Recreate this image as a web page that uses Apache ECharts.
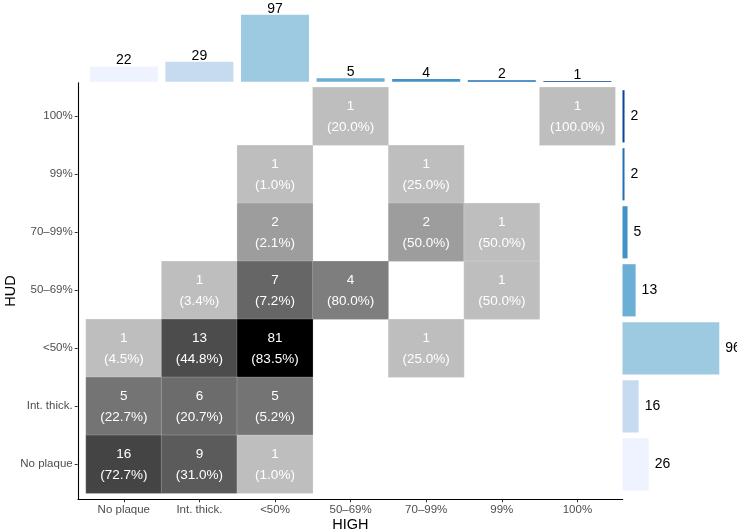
<!DOCTYPE html>
<html>
<head>
<meta charset="utf-8">
<script src="https://cdn.jsdelivr.net/npm/echarts@6/dist/echarts.min.js"></script>
<style>
html,body{margin:0;padding:0;background:#fff;}
#chart{width:737px;height:531px;}
</style>
</head>
<body>
<div id="chart"></div>
<script>
// Categories
const xCats = ['No plaque', 'Int. thick.', '<50%', '50–69%', '70–99%', '99%', '100%'];
const yCats = ['No plaque', 'Int. thick.', '<50%', '50–69%', '70–99%', '99%', '100%'];
// Cells (x index, y index, count, column percentage)
const cellX     = [3, 6, 2, 4, 2, 4, 5, 1, 2, 3, 5, 0, 1, 2, 4, 0, 1, 2, 0, 1, 2];
const cellY     = [6, 6, 5, 5, 4, 4, 4, 3, 3, 3, 3, 2, 2, 2, 2, 1, 1, 1, 0, 0, 0];
const cellCount = [1, 1, 1, 1, 2, 2, 1, 1, 7, 4, 1, 1, 13, 81, 1, 5, 6, 5, 16, 9, 1];
const cellPct   = ['20.0', '100.0', '1.0', '25.0', '2.1', '50.0', '50.0', '3.4', '7.2', '80.0', '50.0',
                   '4.5', '44.8', '83.5', '25.0', '22.7', '20.7', '5.2', '72.7', '31.0', '1.0'];
// Marginal totals
const colTotals = [22, 29, 97, 5, 4, 2, 1];     // HIGH (top)
const rowTotals = [26, 16, 96, 13, 5, 2, 2];    // HUD (right), bottom to top
const blues = ['#eff3ff', '#c6dbef', '#9ecae1', '#6baed6', '#4292c6', '#2171b5', '#084594'];

const FONT = 'Liberation Sans, Arial, Helvetica, sans-serif';
const heatData = cellX.map((x, i) => [x, cellY[i], cellCount[i], Math.log(cellCount[i])]);
const maxLog = Math.log(Math.max(...cellCount));

const chart = echarts.init(document.getElementById('chart'), null, {renderer: 'canvas'});
const option = {
  animation: false,
  backgroundColor: '#ffffff',
  textStyle: {fontFamily: FONT},
  grid: [
    {left: 86, top: 87.3, width: 529.2, height: 406, outerBoundsMode: 'none', containLabel: false},      // main
    {left: 86, top: 14.7, width: 529.2, height: 67, outerBoundsMode: 'none', containLabel: false},       // top bars
    {left: 622.5, top: 87.3, width: 96.8, height: 406, outerBoundsMode: 'none', containLabel: false},    // right bars
    {left: 78, top: 82.7, width: 544.7, height: 416.6, outerBoundsMode: 'none', containLabel: false}     // frame
  ],
  xAxis: [
    {type: 'category', gridIndex: 0, data: xCats, offset: 6,
     axisLine: {show: false},
     axisTick: {show: true, length: 3, alignWithLabel: true, lineStyle: {color: '#333'}},
     axisLabel: {color: '#4d4d4d', fontSize: 11.5, margin: 5, fontFamily: FONT},
     splitLine: {show: false}},
    {type: 'category', gridIndex: 1, data: xCats, show: false},
    {type: 'value', gridIndex: 2, min: 0, max: Math.max(...rowTotals), show: false},
    {type: 'value', gridIndex: 3, min: 0, max: 1,
     axisLine: {show: true, onZero: false, lineStyle: {color: '#000', width: 1.1}},
     axisTick: {show: false}, axisLabel: {show: false}, splitLine: {show: false},
     name: 'HIGH', nameLocation: 'middle', nameGap: 18,
     nameTextStyle: {fontSize: 14.5, color: '#000', fontFamily: FONT}}
  ],
  yAxis: [
    {type: 'category', gridIndex: 0, data: yCats, offset: 8.3,
     axisLine: {show: false},
     axisTick: {show: true, length: 3, alignWithLabel: true, lineStyle: {color: '#333'}},
     axisLabel: {color: '#4d4d4d', fontSize: 11.5, margin: 5, fontFamily: FONT},
     splitLine: {show: false}},
    {type: 'value', gridIndex: 1, min: 0, max: Math.max(...colTotals), show: false},
    {type: 'category', gridIndex: 2, data: yCats, show: false},
    {type: 'value', gridIndex: 3, min: 0, max: 1,
     axisLine: {show: true, onZero: false, lineStyle: {color: '#000', width: 1.1}},
     axisTick: {show: false}, axisLabel: {show: false}, splitLine: {show: false},
     name: 'HUD', nameLocation: 'middle', nameGap: 60, nameRotate: 90,
     nameTextStyle: {fontSize: 14.5, color: '#000', fontFamily: FONT}}
  ],
  visualMap: {
    show: false, type: 'continuous', seriesIndex: 0, dimension: 3,
    min: 0, max: maxLog,
    inRange: {color: ['#bebebe', '#8a8a8a', '#5b5b5b', '#2f2f2f', '#000000']}
  },
  series: [
    {type: 'heatmap', xAxisIndex: 0, yAxisIndex: 0, data: heatData,
     itemStyle: {borderColor: 'rgba(255,255,255,0.4)', borderWidth: 0.5},
     label: {show: true, color: '#ffffff', fontSize: 13.5, lineHeight: 21, fontFamily: FONT,
       formatter: p => cellCount[p.dataIndex] + '\n(' + cellPct[p.dataIndex] + '%)'}},
    {type: 'bar', xAxisIndex: 1, yAxisIndex: 1, barCategoryGap: '10%',
     data: colTotals.map((v, i) => ({value: v, itemStyle: {color: blues[i]}})),
     label: {show: true, position: 'top', distance: -1, color: '#000', fontSize: 14, fontFamily: FONT}},
    {type: 'bar', xAxisIndex: 2, yAxisIndex: 2, barCategoryGap: '10%',
     data: rowTotals.map((v, i) => ({value: v, itemStyle: {color: blues[i]}})),
     label: {show: true, position: 'right', distance: 6, color: '#000', fontSize: 14, fontFamily: FONT}}
  ]
};
chart.setOption(option);
</script>
</body>
</html>
